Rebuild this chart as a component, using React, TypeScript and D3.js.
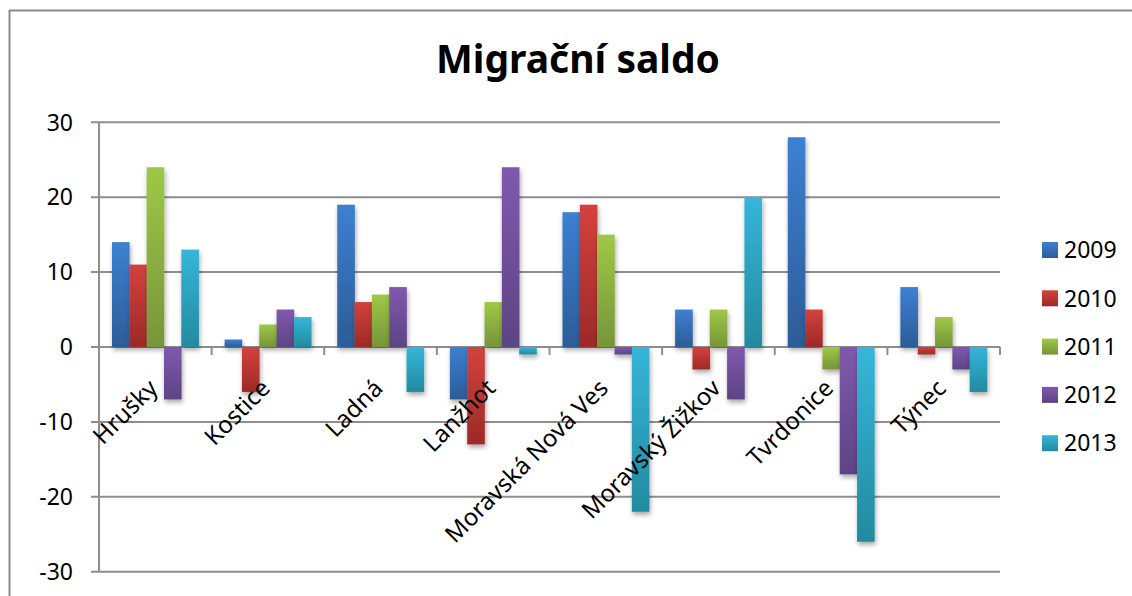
import React from "react";
import * as d3 from "d3";

const categories = ["Hrušky", "Kostice", "Ladná", "Lanžhot", "Moravská Nová Ves", "Moravský Žižkov", "Tvrdonice", "Týnec"];
const seriesNames = ["2009", "2010", "2011", "2012", "2013"];
const v2009 = [14, 1, 19, -7, 18, 5, 28, 8];
const v2010 = [11, -6, 6, -13, 19, -3, 5, -1];
const v2011 = [24, 3, 7, 6, 15, 5, -3, 4];
const v2012 = [-7, 5, 8, 24, -1, -7, -17, -3];
const v2013 = [13, 4, -6, -1, -22, 20, -26, -6];
const yTicks = [-30, -20, -10, 0, 10, 20, 30];
const title = "Migrační saldo";

const seriesValues = [v2009, v2010, v2011, v2012, v2013];
const colorsTop = ["#3d80d2", "#d4413d", "#9fc846", "#8059ae", "#35b6da"];
const colorsBottom = ["#2c5c97", "#9c2a28", "#76953a", "#5c4484", "#238a9f"];

export default function App() {
  const W = 1132, H = 596;
  const left = 99, right = 1000, top = 122.3, bottom = 571.7;
  const x0 = d3.scaleBand().domain(categories).range([left, right]).paddingInner(0).paddingOuter(0);
  // Excel gap width 150%: band = 6.5 bar widths, 0.75 each side
  const barW = x0.bandwidth() / 6.5;
  const y = d3.scaleLinear().domain([-30, 30]).range([bottom, top]);
  const font = "'Noto Sans', 'Open Sans', sans-serif";
  const grid = "#8e8e8e";

  return (
    <svg width={W} height={H} style={{ position: "absolute", left: 0, top: 0, background: "#fff" }}>
      <defs>
        {seriesNames.map((s, i) => (
          <linearGradient key={s} id={`g${i}`} x1="0" y1="0" x2="0" y2="1">
            <stop offset="0" stopColor={colorsTop[i]} />
            <stop offset="1" stopColor={colorsBottom[i]} />
          </linearGradient>
        ))}
        <filter id="sh" x="-30%" y="-10%" width="160%" height="130%">
          <feGaussianBlur in="SourceAlpha" stdDeviation="2.5" />
          <feOffset dx="1" dy="3" result="b" />
          <feComponentTransfer>
            <feFuncA type="linear" slope="0.35" />
          </feComponentTransfer>
          <feMerge>
            <feMergeNode />
            <feMergeNode in="SourceGraphic" />
          </feMerge>
        </filter>
      </defs>
      <rect x={0} y={0} width={W} height={H} fill="#fff" />
      {/* outer frame */}
      <line x1={9} y1={10.5} x2={W} y2={10.5} stroke="#8a8a8a" strokeWidth={2} />
      <line x1={9.5} y1={10} x2={9.5} y2={H} stroke="#8a8a8a" strokeWidth={2} />

      <text x={578} y={73} textAnchor="middle" fontFamily={font} fontWeight="bold" fontSize={39} fill="#000">{title}</text>

      {/* gridlines */}
      {yTicks.map((t) => (
        <g key={t}>
          <line x1={91} x2={right} y1={y(t)} y2={y(t)} stroke={grid} strokeWidth={2} />
          <text x={73} y={y(t)} dy="0.36em" textAnchor="end" fontFamily={font} fontSize={23} fill="#000">{t}</text>
        </g>
      ))}
      <line x1={left} x2={left} y1={top} y2={bottom} stroke={grid} strokeWidth={2} />
      {/* category ticks on zero line */}
      {categories.map((c) => (
        <line key={c} x1={(x0(c) as number) + x0.bandwidth()} x2={(x0(c) as number) + x0.bandwidth()} y1={y(0)} y2={y(0) + 8} stroke={grid} strokeWidth={2} />
      ))}

      {/* bars */}
      {seriesNames.map((s, i) => (
        <g key={s} filter="url(#sh)">
          {categories.map((c, j) => {
            const v = seriesValues[i][j];
            const bx = (x0(c) as number) + 0.75 * barW + i * barW;
            const yTop = y(Math.max(0, v));
            const yBot = y(Math.min(0, v));
            return <rect key={c} x={bx} y={yTop} width={barW + 0.3} height={yBot - yTop} fill={`url(#g${i})`} />;
          })}
        </g>
      ))}

      {/* category labels */}
      {categories.map((c) => {
        const cx = (x0(c) as number) + x0.bandwidth() / 2;
        return (
          <text key={c} transform={`translate(${cx - 9},${y(0) + 30}) rotate(-45)`} textAnchor="end" dy="0.75em" fontFamily={font} fontSize={24} fill="#000">{c}</text>
        );
      })}

      {/* legend */}
      {seriesNames.map((s, i) => {
        const ly = 250 + i * 48.3;
        return (
          <g key={s}>
            <rect x={1042} y={ly - 8} width={16} height={16} fill={`url(#g${i})`} />
            <text x={1064} y={ly} dy="0.36em" fontFamily={font} fontSize={23} fill="#000">{s}</text>
          </g>
        );
      })}
    </svg>
  );
}
